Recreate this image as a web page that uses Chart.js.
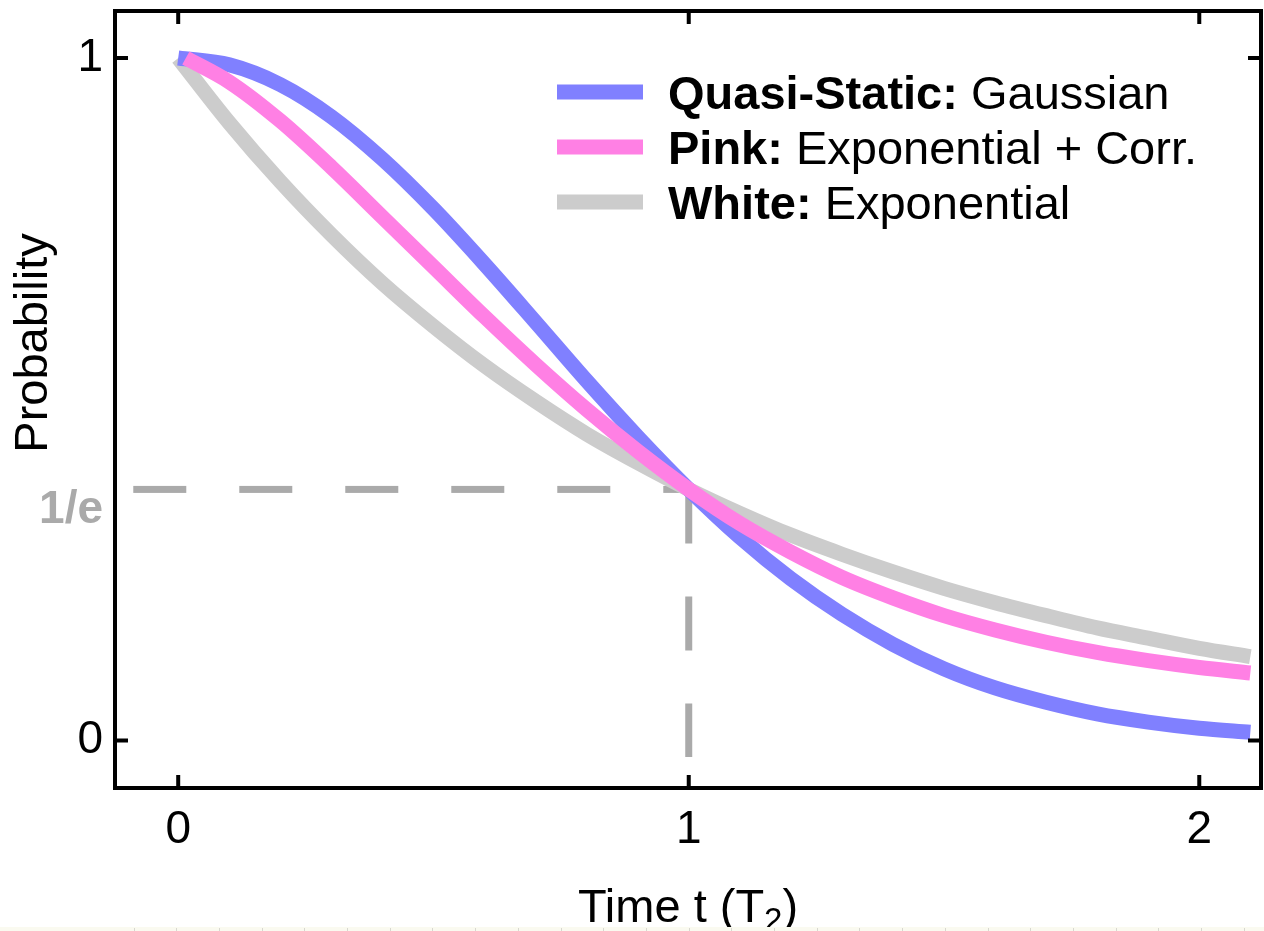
<!DOCTYPE html>
<html>
<head>
<meta charset="utf-8">
<script src="https://cdn.jsdelivr.net/npm/chart.js@4.4.0/dist/chart.umd.min.js"></script>
<style>
  body { margin: 0; background: #fff; }
  canvas { display: block; }
</style>
</head>
<body>
<canvas id="decay_chart" width="1264" height="931"></canvas>
<script>
// DATA
const time = [0, 0.1, 0.2, 0.3, 0.4, 0.5, 0.6, 0.7, 0.8, 0.9, 1.0,
  1.1, 1.2, 1.3, 1.4, 1.5, 1.6, 1.7, 1.8, 1.9, 2.0, 2.1];
const pinkTime = [0.015, 0.1, 0.2, 0.3, 0.4, 0.5, 0.6, 0.7, 0.8, 0.9, 1.0,
  1.1, 1.2, 1.3, 1.4, 1.5, 1.6, 1.7, 1.8, 1.9, 2.0, 2.1];
const quasiStatic = [1, 0.990, 0.961, 0.914, 0.852, 0.779, 0.698, 0.613, 0.527, 0.445, 0.368,
  0.298, 0.237, 0.185, 0.141, 0.105, 0.077, 0.056, 0.039, 0.027, 0.018, 0.012];
const pinkNoise = [1, 0.965, 0.908, 0.840, 0.767, 0.694, 0.621, 0.551, 0.485, 0.424, 0.368,
  0.318, 0.276, 0.239, 0.209, 0.183, 0.162, 0.144, 0.129, 0.117, 0.107, 0.099];
const whiteNoise = [1, 0.905, 0.819, 0.741, 0.670, 0.607, 0.549, 0.497, 0.449, 0.407, 0.368,
  0.333, 0.301, 0.273, 0.247, 0.223, 0.202, 0.183, 0.165, 0.150, 0.135, 0.123];

const invE = 0.3679;
const hDashX = [-0.088, 1];
const hDashY = [invE, invE];
const vDashX = [1, 1];
const vDashY = [invE, -0.024];

const xTicks = [0, 1, 2];
const xTickLabels = ["0", "1", "2"];
const yTicks = [0, 1];
const yTickLabels = ["0", "1"];

const legendBold = ["Quasi-Static:", "Pink:", "White:"];
const legendText = ["Gaussian", "Exponential + Corr.", "Exponential"];

// COLORS
const BLUE = "rgb(128,128,255)";
const PINK = "rgb(255,128,228)";
const GRAY = "rgb(204,204,204)";
const DASH = "rgb(170,170,170)";
const FONT = '"Liberation Sans", Arial, Helvetica, sans-serif';

function toPoints(xs, ys) {
  return xs.map((x, i) => ({ x: x, y: ys[i] }));
}

// frame, ticks, labels, legend
const framePlugin = {
  id: "frame",
  afterDraw(chart) {
    const c = chart.ctx;
    const a = chart.chartArea;
    const xs = chart.scales.x;
    const ys = chart.scales.y;
    c.save();
    c.strokeStyle = "#000";
    c.lineWidth = 4;
    c.strokeRect(a.left, a.top, a.right - a.left, a.bottom - a.top);

    // inward ticks
    const tl = 13;
    c.beginPath();
    xTicks.forEach((t) => {
      const px = xs.getPixelForValue(t);
      c.moveTo(px, a.bottom); c.lineTo(px, a.bottom - tl);
      c.moveTo(px, a.top); c.lineTo(px, a.top + tl);
    });
    yTicks.forEach((t) => {
      const py = ys.getPixelForValue(t);
      c.moveTo(a.left, py); c.lineTo(a.left + tl, py);
      c.moveTo(a.right, py); c.lineTo(a.right - tl, py);
    });
    c.stroke();

    // tick labels
    c.fillStyle = "#000";
    c.font = "46px " + FONT;
    c.textAlign = "center";
    c.textBaseline = "middle";
    xTicks.forEach((t, i) => {
      c.fillText(xTickLabels[i], xs.getPixelForValue(t), a.bottom + 42);
    });
    c.textAlign = "right";
    yTicks.forEach((t, i) => {
      c.fillText(yTickLabels[i], a.left - 12, ys.getPixelForValue(t));
    });
    c.fillStyle = DASH;
    c.font = "bold 46px " + FONT;
    c.fillText("1/e", a.left - 12, ys.getPixelForValue(invE) + 21);

    // axis titles
    c.fillStyle = "#000";
    c.font = "47px " + FONT;
    c.textAlign = "left";
    c.textBaseline = "alphabetic";
    const part1 = "Time t (T";
    const w1 = c.measureText(part1).width;
    c.font = "33px " + FONT;
    const w2 = c.measureText("2").width;
    c.font = "47px " + FONT;
    const w3 = c.measureText(")").width;
    const cx = (a.left + a.right) / 2;
    let sx = cx - (w1 + w2 + w3) / 2;
    const by = 922;
    c.fillText(part1, sx, by);
    c.font = "33px " + FONT;
    c.fillText("2", sx + w1, by + 9);
    c.font = "47px " + FONT;
    c.fillText(")", sx + w1 + w2, by);

    c.save();
    c.translate(47, 343);
    c.rotate(-Math.PI / 2);
    c.textAlign = "center";
    c.fillText("Probability", 0, 0);
    c.restore();

    // legend
    const colors = [BLUE, PINK, GRAY];
    const rows = [92, 147, 202];
    rows.forEach((ry, i) => {
      c.strokeStyle = colors[i];
      c.lineWidth = 15;
      c.lineCap = "butt";
      c.beginPath();
      c.moveTo(557, ry); c.lineTo(643, ry);
      c.stroke();
      c.fillStyle = "#000";
      c.font = "bold 47px " + FONT;
      c.fillText(legendBold[i], 668, ry + 17);
      const bw = c.measureText(legendBold[i] + " ").width;
      c.font = "47px " + FONT;
      c.fillText(legendText[i], 668 + bw, ry + 17);
    });

    // thin strip at the bottom edge
    c.fillStyle = "#fafaf0";
    c.fillRect(0, 927, chart.width, 4);
    c.strokeStyle = "#d8d8d0";
    c.lineWidth = 1;
    c.beginPath();
    for (let x = 133.5; x < chart.width; x += 42.7) {
      c.moveTo(Math.round(x) + 0.5, 928); c.lineTo(Math.round(x) + 0.5, 931);
    }
    c.stroke();
    c.restore();
  },
};

const ctx = document.getElementById("decay_chart").getContext("2d");
const curveStyle = {
  borderWidth: 15,
  pointRadius: 0,
  fill: false,
  cubicInterpolationMode: "monotone",
  borderCapStyle: "butt",
};

new Chart(ctx, {
  type: "line",
  data: {
    datasets: [
      Object.assign({ label: "Pink", data: toPoints(pinkTime, pinkNoise), borderColor: PINK, order: 0 }, curveStyle),
      Object.assign({ label: "Quasi-Static", data: toPoints(time, quasiStatic), borderColor: BLUE, order: 1 }, curveStyle),
      Object.assign({ label: "White", data: toPoints(time, whiteNoise), borderColor: GRAY, order: 2 }, curveStyle),
      {
        label: "h",
        data: toPoints(hDashX, hDashY),
        borderColor: DASH,
        borderWidth: 7,
        borderDash: [53, 53],
        pointRadius: 0,
        order: 3,
      },
      {
        label: "v",
        data: toPoints(vDashX, vDashY),
        borderColor: DASH,
        borderWidth: 7,
        borderDash: [54, 53],
        pointRadius: 0,
        order: 4,
      },
    ],
  },
  options: {
    responsive: false,
    animation: false,
    layout: { padding: { left: 115, right: 3, top: 11, bottom: 143 } },
    plugins: { legend: { display: false }, tooltip: { enabled: false } },
    scales: {
      x: { type: "linear", min: -0.1238, max: 2.1209, display: false },
      y: { type: "linear", min: -0.0696, max: 1.0689, display: false },
    },
  },
  plugins: [framePlugin],
});
</script>
</body>
</html>
